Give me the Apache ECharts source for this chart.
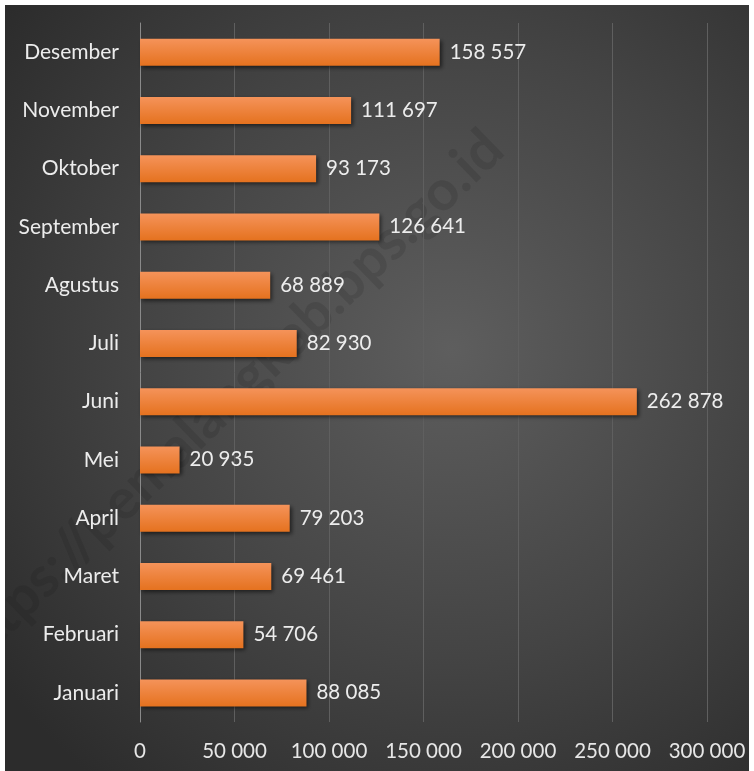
<!DOCTYPE html>
<html>
<head>
<meta charset="utf-8">
<script src="https://cdn.jsdelivr.net/npm/echarts@6/dist/echarts.min.js"></script>
<style>
html,body{margin:0;padding:0;background:#ffffff;width:754px;height:771px;overflow:hidden;}
#chart{position:absolute;left:5px;top:5px;width:744px;height:766px;}
</style>
</head>
<body>
<div id="chart"></div>
<script>
const months = ['Januari','Februari','Maret','April','Mei','Juni','Juli','Agustus','September','Oktober','November','Desember'];
const values = [88085, 54706, 69461, 79203, 20935, 262878, 82930, 68889, 126641, 93173, 111697, 158557];
const axisMin = 0, axisMax = 300000, axisStep = 50000;
const watermark = 'https://pemalangkab.bps.go.id';

function fmt(v){ return String(v).replace(/\B(?=(\d{3})+(?!\d))/g, ' '); }

const chart = echarts.init(document.getElementById('chart'));
chart.setOption({
  backgroundColor: {
    type: 'radial', x: 0.6, y: 0.45, r: 0.75,
    colorStops: [{offset:0,color:'#5e5e5e'},{offset:0.55,color:'#444444'},{offset:1,color:'#2c2c2c'}]
  },
  animation: false,
  textStyle: {fontFamily: 'Lato'},
  grid: {left: 135, right: 42, top: 18, bottom: 49, containLabel: false},
  xAxis: {
    type: 'value', min: axisMin, max: axisMax, interval: axisStep,
    axisLine: {show: false}, axisTick: {show: false},
    splitLine: {show: true, lineStyle: {color: '#5f5f5f', width: 1}},
    axisLabel: {color: '#e6e6e6', fontSize: 20.5, fontFamily: 'Lato', margin: 19, formatter: fmt}
  },
  yAxis: {
    type: 'category', data: months,
    axisLine: {show: true, lineStyle: {color: '#8a8a8a', width: 1}},
    axisTick: {show: false},
    axisLabel: {color: '#ececec', fontSize: 21, fontFamily: 'Lato', margin: 21}
  },
  graphic: [{
    type: 'text',
    rotation: 0.77,
    style: {text: watermark, fontSize: 56, fontWeight: 'bold', fontFamily: 'Lato', fill: 'rgba(20,20,20,0.14)'},
    z: 0, silent: true,
    left: -65, top: 115
  }],
  series: [{
    type: 'bar', data: values, barWidth: 27, z: 3,
    itemStyle: {
      color: {type:'linear', x:0, y:0, x2:0, y2:1, colorStops:[{offset:0,color:'#f5935a'},{offset:1,color:'#e5721f'}]},
      shadowColor: 'rgba(0,0,0,0.55)', shadowBlur: 4, shadowOffsetX: 2, shadowOffsetY: 2
    },
    label: {show: true, position: 'right', distance: 10, color: '#ececec', fontSize: 20.5, fontFamily: 'Lato', formatter: p => fmt(p.value)}
  }]
});
</script>
</body>
</html>
